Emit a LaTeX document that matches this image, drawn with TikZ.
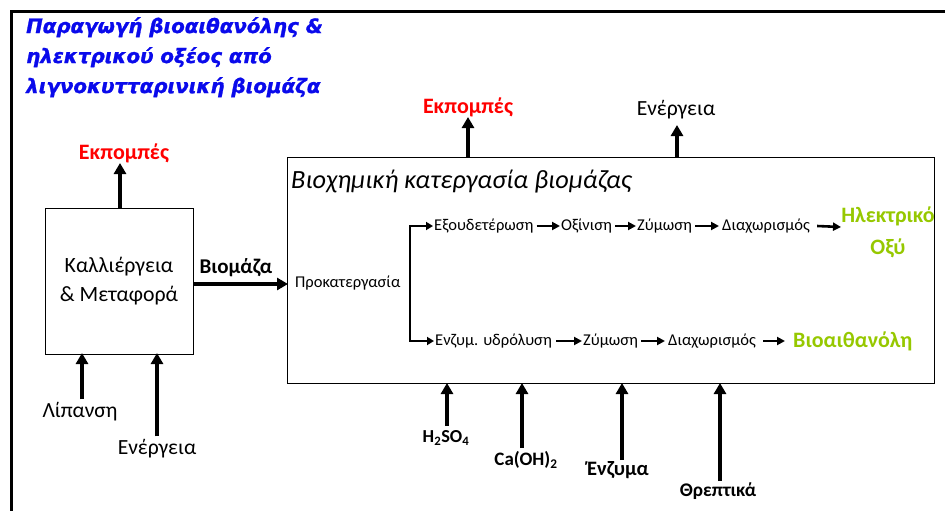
\documentclass[tikz,border=0pt]{standalone}
\usepackage{fontspec}
\setmainfont{Carlito}
\newfontfamily\titlefont[UprightFont={DejaVu Sans Bold Oblique},UprightFeatures={FakeBold=1.3}]{DejaVu Sans}
\usetikzlibrary{arrows.meta}
\definecolor{ttlblue}{RGB}{10,10,235}
\definecolor{prodgreen}{RGB}{150,200,0}
\definecolor{emred}{RGB}{255,0,0}
\tikzset{
  bigarrow/.style={line width=3.6pt,-{Triangle[length=11pt,width=12pt]}},
  smallarrow/.style={line width=2.6pt,-{Triangle[length=8pt,width=8pt]}},
  steptext/.style={inner sep=1pt,font=\fontsize{16.5}{18}\selectfont},
  prodtext/.style={inner sep=1pt,text=prodgreen,font=\fontsize{22}{32}\selectfont\bfseries,align=center},
  lbl/.style={inner sep=1pt,font=\fontsize{21.6}{24}\selectfont},
  redlbl/.style={inner sep=1pt,text=emred,font=\fontsize{22}{24}\selectfont\bfseries},
}
\begin{document}
\begin{tikzpicture}[x=1pt,y=-1pt]
\useasboundingbox (0,0) rectangle (945,511);
% outer frame
\draw[line width=3pt] (11,511) -- (11,12) -- (945,12);
% title
\node[anchor=north west,inner sep=0pt,align=left,text=ttlblue,
      font=\titlefont\fontsize{19.8}{30}\selectfont] (title) at (26,17)
  {Παραγωγή βιοαιθανόλης \&\\ηλεκτρικού οξέος από\\λιγνοκυτταρινική βιομάζα};
% left box
\node[draw,line width=1pt,minimum width=148pt,minimum height=146pt,align=center,
      font=\fontsize{21.8}{29}\selectfont] (cult) at (119,281) {Καλλιέργεια\\\& Μεταφορά};
% big box
\node[draw,line width=1pt,minimum width=647pt,minimum height=226pt] (bio) at (611,270) {};
\node[anchor=west,inner sep=0pt,font=\fontsize{26.3}{28}\selectfont\itshape] (biotitle) at (291,182)
  {Βιοχημική κατεργασία βιομάζας};
% left box inputs/outputs
\node[redlbl] (em1) at (124,153) {Εκπομπές};
\draw[bigarrow] (cult.north -| 120,0) -- (120,163);
\node[lbl] (lip) at (80,412) {Λίπανση};
\coordinate (lipend) at (82,353);
\draw[bigarrow] ([xshift=2pt,yshift=2pt]lip.north) -- (lipend);
\node[lbl] (en1) at (157,449) {Ενέργεια};
\coordinate (en1end) at (157,353);
\draw[bigarrow] ([yshift=2pt]en1.north) -- (en1end);
\node[inner sep=1pt,font=\fontsize{21}{22}\selectfont\bfseries] (biomass) at (236,268) {Βιομάζα};
\coordinate (bmstart) at (193,284);
\coordinate (bmend) at (288,284);
\draw[bigarrow] (bmstart) -- (bmend);
% top outputs of big box
\node[redlbl] (em2) at (468,107) {Εκπομπές};
\coordinate (em2start) at (468,157);
\draw[bigarrow] (em2start) -- (468,117);
\node[lbl] (en2) at (676,110) {Ενέργεια};
\coordinate (en2start) at (677,157);
\draw[bigarrow] (en2start) -- (677,125);
% bottom inputs of big box
\node[inner sep=1pt,font=\fontsize{18.3}{20}\selectfont\bfseries] (h2so4) at (446,438) {H\textsubscript{2}SO\textsubscript{4}};
\draw[bigarrow] (447,426) -- (447,383);
\node[inner sep=1pt,font=\fontsize{19}{20}\selectfont\bfseries] (caoh) at (526,460) {Ca(OH)\textsubscript{2}};
\draw[bigarrow] (522,448) -- (522,383);
\node[inner sep=1pt,font=\fontsize{20.5}{22}\selectfont\bfseries] (enz) at (618,470) {Ένζυμα};
\draw[bigarrow] (622,460) -- (622,383);
\node[inner sep=1pt,font=\fontsize{19.3}{22}\selectfont\bfseries] (nutr) at (718,491) {Θρεπτικά};
\draw[bigarrow] (720,481) -- (720,383);
% process steps
\node[steptext,anchor=west] (pre) at (294,283) {Προκατεργασία};
\node[steptext,anchor=west] (neut) at (433,226) {Εξουδετέρωση};
\node[steptext,anchor=west] (acid) at (560,226) {Οξίνιση};
\node[steptext,anchor=west] (ferm1) at (636,226) {Ζύμωση};
\node[steptext,anchor=west] (sep1) at (721,226) {Διαχωρισμός};
\node[prodtext] (lactic) at (888,232) {Ηλεκτρικό\\Οξύ};
\coordinate (lacticin) at (841,227);
\node[steptext,anchor=west] (hydro) at (434,341) {Ενζυμ. υδρόλυση};
\node[steptext,anchor=west] (ferm2) at (582,341) {Ζύμωση};
\node[steptext,anchor=west] (sep2) at (667,341) {Διαχωρισμός};
\node[prodtext,anchor=west] (ethanol) at (792,341) {Βιοαιθανόλη};
\draw[line width=2.6pt,-{Triangle[length=7pt,width=8pt]}] (410,227) |- (neut.west);
\draw[line width=2.6pt,-{Triangle[length=7pt,width=8pt]}] (410,226) |- (hydro.west);
\draw[smallarrow] ([xshift=2pt]neut.east) -- (acid.west);
\draw[smallarrow] ([xshift=2pt]acid.east) -- (ferm1.west);
\draw[smallarrow] ([xshift=2pt]ferm1.east) -- ([xshift=-2pt]sep1.west);
\draw[smallarrow] ([xshift=6pt]sep1.east) -- (lacticin);
\draw[smallarrow] ([xshift=3pt]hydro.east) -- (ferm2.west);
\draw[smallarrow] ([xshift=2pt]ferm2.east) -- ([xshift=-2pt]sep2.west);
\draw[smallarrow] ([xshift=6pt]sep2.east) -- ([xshift=-7pt]ethanol.west);
\end{tikzpicture}
\end{document}
